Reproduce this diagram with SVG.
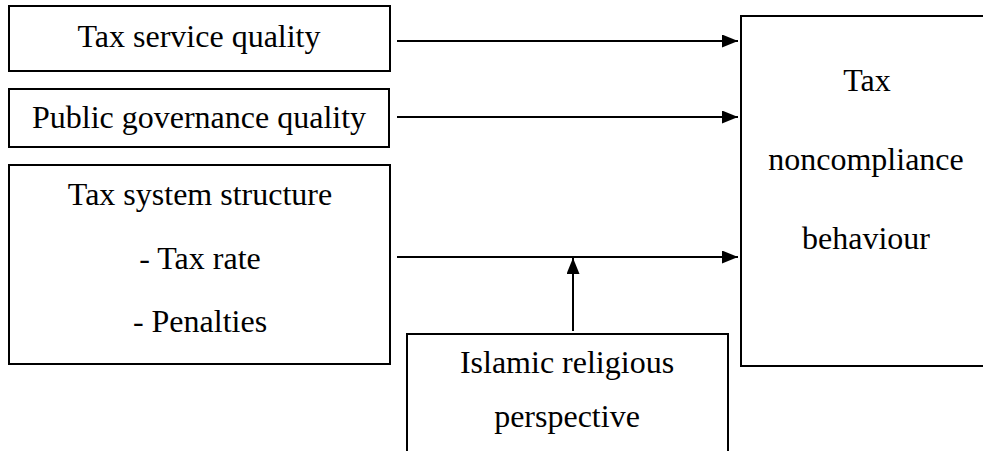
<svg xmlns="http://www.w3.org/2000/svg" width="983" height="451" viewBox="0 0 983 451">
<style>
.box{fill:#fff;stroke:#000;stroke-width:2}
.t{font-family:'Liberation Serif','DejaVu Serif',serif;font-size:32px;fill:#000;text-anchor:middle}
.c{stroke:#000;stroke-width:2;fill:none}
</style>
<defs>
<marker id="ah" markerWidth="16" markerHeight="13" refX="16" refY="6.5" orient="auto" markerUnits="userSpaceOnUse">
<path d="M0,0 L16,6.5 L0,13 Z" fill="#000"/>
</marker>
</defs>
<rect width="983" height="451" fill="#fff"/>
<g id="n-service">
<rect class="box" x="9" y="6" width="381" height="65"/>
<text class="t" x="199" y="47" font-family="Liberation Serif, serif">Tax service quality</text>
</g>
<g id="n-governance">
<rect class="box" x="9" y="89" width="380" height="58"/>
<text class="t" x="199" y="128">Public governance quality</text>
</g>
<g id="n-structure">
<rect class="box" x="9" y="165" width="381" height="199"/>
<text class="t" x="200" y="205">Tax system structure</text>
<text class="t" x="200" y="269">- Tax rate</text>
<text class="t" x="200" y="332">- Penalties</text>
</g>
<g id="n-behaviour">
<rect class="box" x="741" y="16" width="260" height="350"/>
<text class="t" x="867" y="91">Tax</text>
<text class="t" x="866" y="170">noncompliance</text>
<text class="t" x="866" y="249">behaviour</text>
</g>
<g id="n-islamic">
<rect class="box" x="407" y="334" width="321" height="140"/>
<text class="t" x="567" y="373">Islamic religious</text>
<text class="t" x="567" y="427">perspective</text>
</g>
<g id="connectors">
<line class="c" x1="397" y1="41" x2="738" y2="41" marker-end="url(#ah)"/>
<line class="c" x1="397" y1="117" x2="738" y2="117" marker-end="url(#ah)"/>
<line class="c" x1="397" y1="257" x2="738" y2="257" marker-end="url(#ah)"/>
<line class="c" x1="573" y1="331" x2="573" y2="258" marker-end="url(#ah)"/>
</g>
</svg>
